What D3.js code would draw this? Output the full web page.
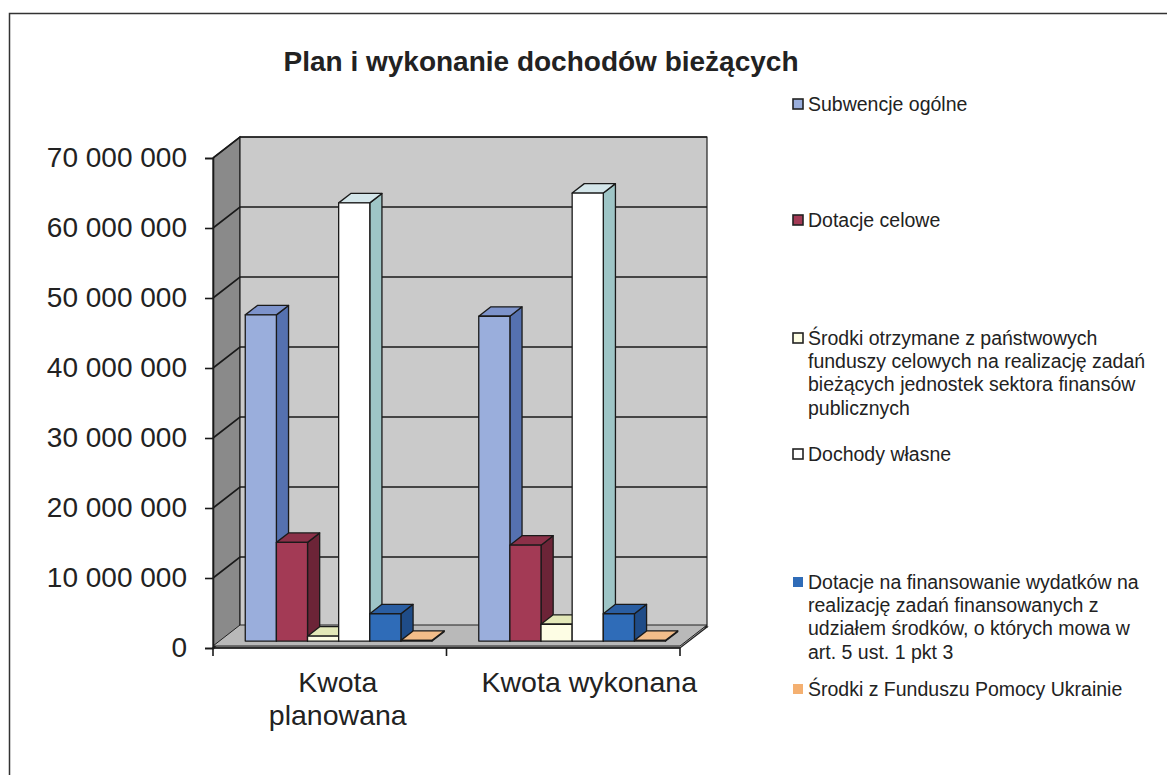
<!DOCTYPE html>
<html>
<head>
<meta charset="utf-8">
<script src="https://cdn.jsdelivr.net/npm/d3@7"></script>
<style>
  body { margin: 0; background: #fff; }
  svg { font-family: "Liberation Sans", Arial, sans-serif; }
</style>
</head>
<body>
<svg width="1167" height="775"></svg>
<script>
// plan i wykonanie dochodów bieżących
const categories = ['Kwota planowana', 'Kwota wykonana'];
const categoryLines = [['Kwota', 'planowana'], ['Kwota wykonana']];

const series = [
  'Subwencje ogólne',
  'Dotacje celowe',
  'Środki otrzymane z państwowych funduszy celowych na realizację zadań bieżących jednostek sektora finansów publicznych',
  'Dochody własne',
  'Dotacje na finansowanie wydatków na realizację zadań finansowanych z udziałem środków, o których mowa w art. 5 ust. 1 pkt 3',
  'Środki z Funduszu Pomocy Ukrainie'
];
const legendLines = [
  ['Subwencje ogólne'],
  ['Dotacje celowe'],
  ['Środki otrzymane z państwowych', 'funduszy celowych na realizację zadań', 'bieżących jednostek sektora finansów', 'publicznych'],
  ['Dochody własne'],
  ['Dotacje na finansowanie wydatków na', 'realizację zadań finansowanych z', 'udziałem środków, o których mowa w', 'art. 5 ust. 1 pkt 3'],
  ['Środki z Funduszu Pomocy Ukrainie']
];

// values per category, in series order
const planValues = [46600000, 14100000, 700000, 62600000, 3900000, 100000];
const doneValues = [46400000, 13700000, 2400000, 64000000, 3900000, 100000];

const yTicks = [0, 10000000, 20000000, 30000000, 40000000, 50000000, 60000000, 70000000];

// front, side, top colours
const faceColors = [
  ['#9aaedc', '#5571b0', '#7d93cb'],
  ['#a33a55', '#6c2437', '#8b3048'],
  ['#fdfde4', '#cfd4a6', '#e3e8b8'],
  ['#ffffff', '#9ec5c6', '#d4e6ea'],
  ['#2f6cb8', '#1f4c88', '#2a5ea2'],
  ['#f4b071', '#d38e4f', '#f2bd8a']
];

const data = [planValues, doneValues];

const svg = d3.select('svg');

// outer frame
svg.append('rect')
  .attr('x', 9.5).attr('y', 13.5)
  .attr('width', 1200).attr('height', 800)
  .attr('fill', 'none')
  .attr('stroke', '#333')
  .attr('stroke-width', 1.5);

svg.append('text')
  .attr('x', 541)
  .attr('y', 61)
  .attr('text-anchor', 'middle')
  .attr('dy', '0.35em')
  .style('font-size', '28px')
  .style('font-weight', 'bold')
  .attr('fill', '#222')
  .text('Plan i wykonanie dochodów bieżących');

// 3d depth of the plot box
const DX = 27, DY = 21;
const P = (x, y, d) => [x + d * DX, y - d * DY];
const barFront = 0.33, barBack = 0.78;

const yScale = d3.scaleLinear().domain([0, 70000000]).range([648, 158]);
const x0 = d3.scaleBand().domain(categories).range([213, 680]);
const x1 = d3.scaleBand().domain(series).range([0, x0.bandwidth()]).paddingOuter(0.75);

const line = d3.line();
const poly = (pts) => line(pts) + 'Z';

const xL = 213, xR = 680;
const y0 = yScale(0), yTop = yScale(70000000);

// left wall
svg.append('path')
  .attr('d', poly([P(xL, y0, 0), P(xL, yTop, 0), P(xL, yTop, 1), P(xL, y0, 1)]))
  .attr('fill', '#8a8a8a')
  .attr('stroke', '#222').attr('stroke-width', 1.2);

// back wall
svg.append('path')
  .attr('d', poly([P(xL, y0, 1), P(xL, yTop, 1), P(xR, yTop, 1), P(xR, y0, 1)]))
  .attr('fill', '#cacaca')
  .attr('stroke', '#222').attr('stroke-width', 1.2);

// gridlines on walls
const grid = svg.append('g').attr('stroke', '#1a1a1a').attr('stroke-width', 1.6).attr('fill', 'none');
yTicks.forEach(t => {
  const yy = yScale(t);
  grid.append('path').attr('d', line([P(xL, yy, 0), P(xL, yy, 1), P(xR, yy, 1)]));
});

// floor
svg.append('path')
  .attr('d', poly([P(xL, y0, 0), P(xR, y0, 0), P(xR, y0, 1), P(xL, y0, 1)]))
  .attr('fill', '#a9a9a9')
  .attr('stroke', '#222').attr('stroke-width', 1.2);
svg.append('path')
  .attr('d', poly([P(xL, y0 - 2, 0), P(xR, y0 - 2, 0), P(xR, y0 - 2, 1), P(xL, y0 - 2, 1)]))
  .attr('fill', '#b9b9b9')
  .attr('stroke', '#222').attr('stroke-width', 1);

// bars, drawn left to right so each one hides its neighbour's side
const bars = svg.append('g').attr('stroke', '#1a1a1a').attr('stroke-width', 1.3).attr('stroke-linejoin', 'round');
categories.forEach((cat, ci) => {
  series.forEach((s, si) => {
    const v = data[ci][si];
    const xa = x0(cat) + x1(s);
    const xb = xa + x1.bandwidth();
    const yt = yScale(v), yb = yScale(0);
    const c = faceColors[si];
    const g = bars.append('g');
    g.append('path')
      .attr('d', poly([P(xb, yt, barFront), P(xb, yt, barBack), P(xb, yb, barBack), P(xb, yb, barFront)]))
      .attr('fill', c[1]);
    g.append('path')
      .attr('d', poly([P(xa, yt, barFront), P(xb, yt, barFront), P(xb, yt, barBack), P(xa, yt, barBack)]))
      .attr('fill', c[2]);
    g.append('path')
      .attr('d', poly([P(xa, yt, barFront), P(xb, yt, barFront), P(xb, yb, barFront), P(xa, yb, barFront)]))
      .attr('fill', c[0]);
  });
});

// y axis
const yAxis = svg.append('g')
  .attr('transform', `translate(${xL}, 0)`)
  .call(d3.axisLeft(yScale)
    .tickValues(yTicks)
    .tickSize(8)
    .tickPadding(18)
    .tickFormat(d => d3.format(',')(d).replace(/,/g, ' ')));
yAxis.select('.domain').attr('stroke', '#1a1a1a').attr('stroke-width', 1.6);
yAxis.selectAll('.tick line').attr('stroke', '#1a1a1a').attr('stroke-width', 1.6);
yAxis.selectAll('.tick text')
  .style('font-size', '28px')
  .style('font-family', '"Liberation Sans", Arial, sans-serif')
  .attr('fill', '#222');

// x axis with ticks at category boundaries
const xAxis = svg.append('g').attr('stroke', '#1a1a1a').attr('stroke-width', 1.6);
xAxis.append('line').attr('x1', xL).attr('x2', xR).attr('y1', y0).attr('y2', y0);
categories.concat([null]).forEach((c, i) => {
  const xx = c === null ? xR : x0(c);
  xAxis.append('line').attr('x1', xx).attr('x2', xx).attr('y1', y0).attr('y2', y0 + 8);
});

const labelShift = [8, 26];
categories.forEach((cat, ci) => {
  const t = svg.append('text')
    .attr('text-anchor', 'middle')
    .attr('fill', '#222')
    .style('font-size', '28.5px');
  categoryLines[ci].forEach((ln, li) => {
    t.append('tspan')
      .attr('x', x0(cat) + x0.bandwidth() / 2 + labelShift[ci])
      .attr('y', 692 + li * 33)
      .text(ln);
  });
});

// legend
const legendY = [104, 220, 338, 454, 582, 689];
const legend = svg.append('g');
series.forEach((s, si) => {
  const g = legend.append('g').attr('transform', `translate(793, ${legendY[si]})`);
  g.append('rect')
    .attr('x', 0).attr('y', -5)
    .attr('width', 10).attr('height', 10)
    .attr('fill', faceColors[si][0])
    .attr('stroke', si === 4 || si === 5 ? 'none' : '#222')
    .attr('stroke-width', 1.6);
  const t = g.append('text')
    .attr('fill', '#222')
    .style('font-size', '19.5px');
  legendLines[si].forEach((ln, li) => {
    t.append('tspan')
      .attr('x', 15)
      .attr('y', li * 23.3)
      .attr('dy', '0.35em')
      .text(ln);
  });
});
</script>
</body>
</html>
